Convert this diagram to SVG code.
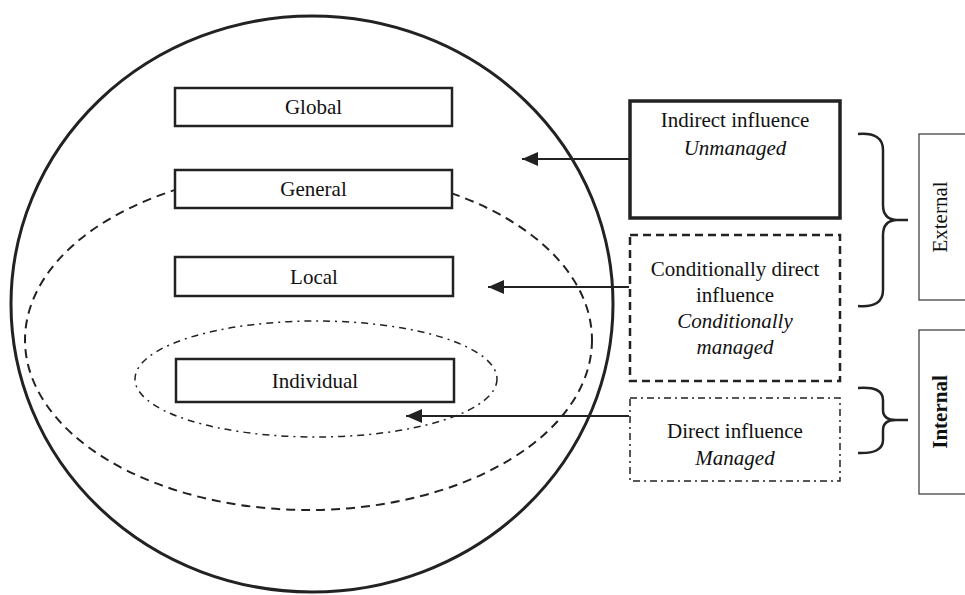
<svg xmlns="http://www.w3.org/2000/svg" width="965" height="595" viewBox="0 0 965 595">
<defs>
<style>
text{font-family:"Liberation Serif","Times New Roman",serif;font-size:21px;fill:#111;text-anchor:middle}
.it{font-style:italic}
.box{fill:#fff;stroke:#222;stroke-width:2.5}
.thin{fill:#fff;stroke:#444;stroke-width:1.3}
.conn{stroke:#222;stroke-width:2;fill:none}
.brace{stroke:#222;stroke-width:2.5;fill:none}
</style>
<marker id="ah" viewBox="0 0 16 14" refX="16" refY="7" markerWidth="16" markerHeight="14" markerUnits="userSpaceOnUse" orient="auto">
<path d="M0,0 L16,7 L0,14 z" fill="#222"/>
</marker>
</defs>
<rect width="965" height="595" fill="#fff"/>
<g id="outer">
<ellipse cx="312" cy="304" rx="301" ry="288" fill="none" stroke="#222" stroke-width="3"/>
</g>
<g id="middle">
<ellipse cx="308.5" cy="340" rx="283.5" ry="170" fill="none" stroke="#222" stroke-width="2" stroke-dasharray="9 6"/>
</g>
<g id="inner">
<ellipse cx="316" cy="379" rx="181" ry="58" fill="none" stroke="#222" stroke-width="1.5" stroke-dasharray="7 5 2 5"/>
</g>
<g id="global"><rect class="box" x="175" y="88" width="277" height="38"/><text x="313.5" y="114">Global</text></g>
<g id="general"><rect class="box" x="175" y="170" width="277" height="38"/><text x="313.5" y="196">General</text></g>
<g id="local"><rect class="box" x="175" y="257" width="278" height="39"/><text x="314" y="284">Local</text></g>
<g id="individual"><rect class="box" x="176" y="359" width="278" height="43"/><text x="315" y="388">Individual</text></g>
<g id="connectors">
<line class="conn" x1="629" y1="159" x2="522" y2="159" marker-end="url(#ah)"/>
<line class="conn" x1="629" y1="287" x2="488" y2="287" marker-end="url(#ah)"/>
<line class="conn" x1="629" y1="416" x2="406" y2="416" marker-end="url(#ah)"/>
</g>
<g id="indirect">
<rect x="630" y="101" width="210" height="117" fill="#fff" stroke="#222" stroke-width="3.5"/>
<text x="735" y="127">Indirect influence</text>
<text class="it" x="735" y="155">Unmanaged</text>
</g>
<g id="conditional">
<rect x="630" y="235" width="210" height="146" fill="#fff" stroke="#222" stroke-width="2.5" stroke-dasharray="8 5"/>
<text x="735" y="276">Conditionally direct</text>
<text x="735" y="302">influence</text>
<text class="it" x="735" y="328">Conditionally</text>
<text class="it" x="735" y="354">managed</text>
</g>
<g id="direct">
<rect x="630" y="398" width="210" height="83" fill="#fff" stroke="#222" stroke-width="1.5" stroke-dasharray="7 4 2 4"/>
<text x="735" y="438">Direct influence</text>
<text class="it" x="735" y="465">Managed</text>
</g>
<g id="brace-external">
<path class="brace" d="M858,134 Q883,132 883,150 L883,205 Q883,219 896,220 L908,220 M896,220 Q883,221 883,235 L883,290 Q883,308 858,306"/>
</g>
<g id="brace-internal">
<path class="brace" d="M858,388 Q883,386 883,400 L883,410 Q883,420 896,420 L908,420 M896,420 Q883,420 883,430 L883,440 Q883,454 858,453"/>
</g>
<g id="external">
<rect class="thin" x="919" y="134" width="60" height="166"/>
<text transform="translate(947,217) rotate(-90)">External</text>
</g>
<g id="internal">
<rect class="thin" x="919" y="330" width="60" height="164" stroke-width="1.6"/>
<text transform="translate(947,412) rotate(-90)" font-weight="bold">Internal</text>
</g>
</svg>
